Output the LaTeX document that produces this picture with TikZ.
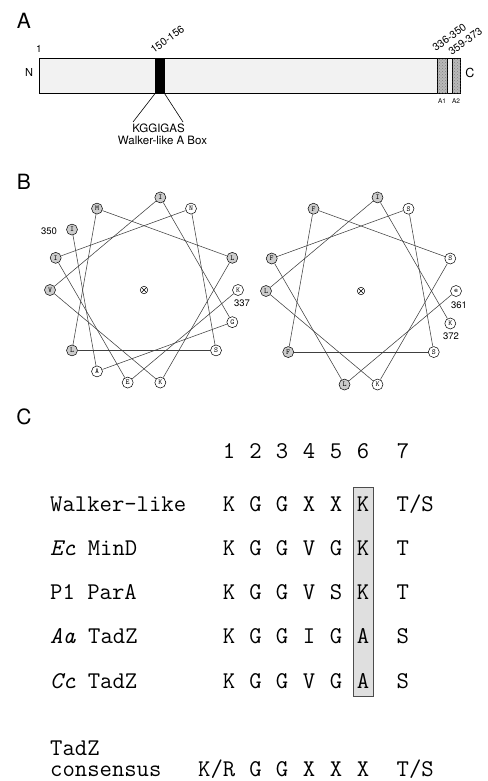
\documentclass[tikz,border=0pt]{standalone}
\usepackage{fontspec}
\setsansfont{TeX Gyre Heros}
\usetikzlibrary{calc,patterns}
\newcommand\fsz[1]{\fontsize{#1}{#1}\selectfont}

\begin{document}
\begin{tikzpicture}[x=1pt,y=-1pt,
  panel/.style={font=\sffamily\fsz{21}, inner sep=0},
  lbl/.style={font=\sffamily\fsz{11.5}, inner sep=0},
  rng/.style={font=\sffamily\fsz{10.5}, inner sep=0, rotate=36, anchor=south west},
  tinylbl/.style={font=\sffamily\fsz{6.5}, inner sep=0},
  num/.style={font=\sffamily\fsz{9.5}, inner sep=0},
  res/.style={circle, draw=black, line width=0.5pt, inner sep=0, minimum size=11pt, font=\ttfamily\fsz{7.5}},
  hyd/.style={res, fill=gray!40},
  pol/.style={res, fill=white},
  helix/.style={draw=black!75, line width=0.55pt},
  axisx/.style={circle, draw, line width=0.5pt, minimum size=7.5pt, inner sep=0,
    path picture={\draw[line width=0.5pt]
      (path picture bounding box.north west) -- (path picture bounding box.south east)
      (path picture bounding box.north east) -- (path picture bounding box.south west);}},
  seq/.style={font=\ttfamily\fsz{24}, inner sep=0, anchor=base},
  seqw/.style={font=\ttfamily\fsz{24}, inner sep=0, anchor=base west},
  box/.style={draw=black, line width=0.6pt, inner sep=0, minimum height=35pt, anchor=north west},
]
\useasboundingbox (0,0) rectangle (487,781);

% ---------------- A: domain map ----------------
\node[panel] (pA) at (24,21) {A};
\node[box, fill=gray!10, minimum width=421pt] (bar) at (39,58) {};
\node[box, fill=black, minimum width=9pt] (wbox) at (155,58) {};
\node[box, fill=gray!55, minimum width=10pt,
      postaction={pattern=crosshatch dots, pattern color=black!50}] (a1) at (437,58) {};
\node[box, fill=gray!55, minimum width=8pt,
      postaction={pattern=crosshatch dots, pattern color=black!50}] (a2) at (452,58) {};
\node[lbl, font=\sffamily\fsz{11}] (nterm) at (29,72) {N};
\node[lbl, font=\sffamily\fsz{12.5}] (cterm) at (470,73) {C};
\node[lbl, font=\sffamily\fsz{10}] (one) at (39,49) {1};
\node[rng] (r150) at (154,54) {150-156};
\node[rng] (r336) at (436,52) {336-350};
\node[rng] (r359) at (452,56) {359-373};
\node[tinylbl] (la1) at (442,101) {A1};
\node[tinylbl] (la2) at (456,101) {A2};
\coordinate (lk1) at (133,122);
\coordinate (lk2) at (183,122);
\draw[line width=0.6pt] (wbox.south west) -- (lk1);
\draw[line width=0.6pt] (wbox.south east) -- (lk2);
\node[lbl] (motif) at (158.5,128) {KGGIGAS};
\node[lbl] (mname) at (162.5,140.5) {Walker-like A Box};

% ---------------- B: helical wheels ----------------
\node[panel] (pB) at (24,182) {B};

% wheel of residues 337-350
\coordinate (wc1) at (144,290);
\node[axisx] (ax1) at (wc1) {};
\foreach \n/\a/\l/\s in {r337/0/K/pol, r338/260/E/pol, r339/160/I/hyd, r340/60/N/pol,
    r341/320/S/pol, r342/220/L/hyd, r343/120/M/hyd, r344/20/L/hyd, r345/280/K/pol,
    r346/180/V/hyd, r347/80/I/hyd, r348/340/G/pol, r349/240/A/pol, r350/140/I/hyd}
  \node[\s] (\n) at ($(wc1)+(\a:94pt)$) {\l};
\foreach \p/\q in {r337/r338, r338/r339, r339/r340, r340/r341, r341/r342, r342/r343,
    r343/r344, r344/r345, r345/r346, r346/r347, r347/r348, r348/r349, r349/r350}
  \draw[helix] (\p) -- (\q);
\node[num] (n350) at (49,231) {350};
\node[num] (n337) at (242,303) {337};

% wheel of residues 361-372
\coordinate (wc2) at (361,291);
\node[axisx] (ax2) at (wc2) {};
\foreach \n/\a/\l/\s in {s361/0/e/pol, s362/260/L/hyd, s363/160/F/hyd, s364/60/S/pol,
    s365/320/S/pol, s366/220/F/hyd, s367/120/F/hyd, s368/20/S/pol, s369/280/K/pol,
    s370/180/L/hyd, s371/80/I/hyd, s372/340/K/pol}
  \node[\s] (\n) at ($(wc2)+(\a:95pt)$) {\l};
\foreach \p/\q in {s361/s362, s362/s363, s363/s364, s364/s365, s365/s366, s366/s367,
    s367/s368, s368/s369, s369/s370, s370/s371, s371/s372}
  \draw[helix] (\p) -- (\q);
\node[num] (n361) at (459,305) {361};
\node[num] (n372) at (451,336) {372};

% ---------------- C: motif alignment ----------------
\node[panel] (pC) at (24,417) {C};
\node[draw=black!70, line width=0.6pt, fill=gray!25, inner sep=0,
      minimum width=20pt, minimum height=209pt, anchor=north west] (hl) at (353,487) {};

% column headers
\foreach \c/\x in {1/229, 2/255.5, 3/282, 4/309, 5/336, 6/363, 7/403}
  \node[seq] (h\c) at (\x,458) {\c};

% rows: name, residues 1-6, residue 7
\foreach \r/\y/\nm/\a/\b/\c/\d/\e/\f/\g in {
    wl/511/{Walker-like}/K/G/G/X/X/K/{T/S},
    ec/555.5/{\textit{Ec} MinD}/K/G/G/V/G/K/T,
    pa/599.5/{P1 ParA}/K/G/G/V/S/K/T,
    aa/643.5/{\textit{Aa} TadZ}/K/G/G/I/G/A/S,
    cc/688/{\textit{Cc} TadZ}/K/G/G/V/G/A/S}{
  \node[seqw] (\r0) at (50,\y) {\nm};
  \node[seq] (\r1) at (229,\y) {\a};
  \node[seq] (\r2) at (255.5,\y) {\b};
  \node[seq] (\r3) at (282,\y) {\c};
  \node[seq] (\r4) at (309,\y) {\d};
  \node[seq] (\r5) at (336,\y) {\e};
  \node[seq] (\r6) at (363,\y) {\f};
  \node[seqw] (\r7) at (396.5,\y) {\g};
}

% consensus
\node[seqw] (tz0) at (50,755) {TadZ};
\node[seqw] (cs0) at (50,776) {consensus};
\node[seq, anchor=base east] (cs1) at (235.5,776) {K/R};
\foreach \c/\x/\t in {2/255.5/G, 3/282/G, 4/309/X, 5/336/X, 6/363/X}
  \node[seq] (cs\c) at (\x,776) {\t};
\node[seqw] (cs7) at (396.5,776) {T/S};
\end{tikzpicture}
\end{document}
